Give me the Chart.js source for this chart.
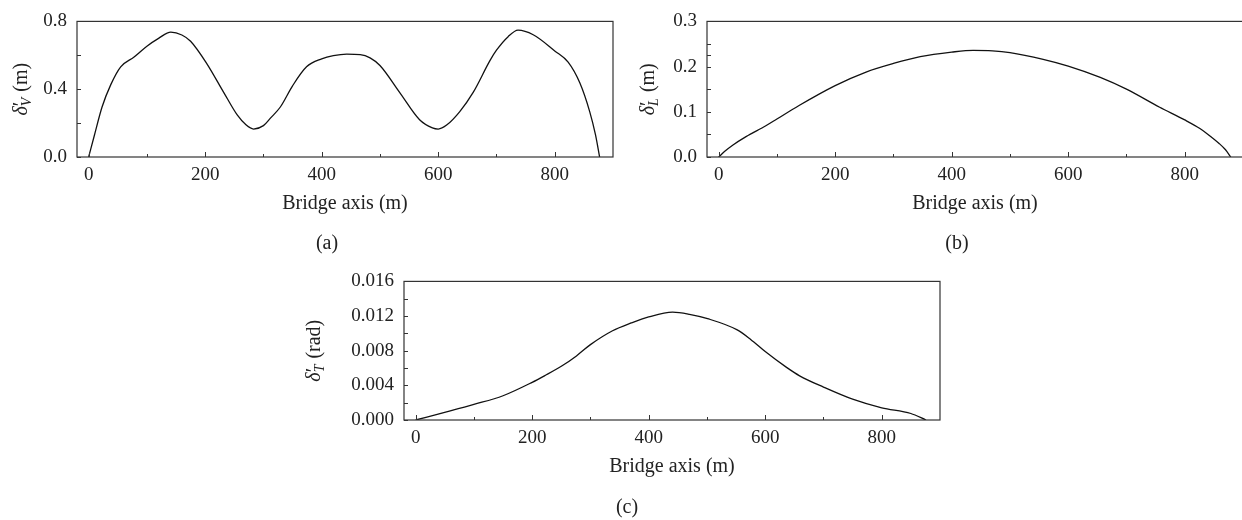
<!DOCTYPE html>
<html><head><meta charset="utf-8">
<script src="https://cdn.jsdelivr.net/npm/chart.js@4"></script>
<style>
html,body{margin:0;padding:0;background:#fff;overflow:hidden;width:1242px;height:520px;position:relative;}
canvas{position:absolute;}
.cap{position:absolute;font-family:"Liberation Serif",serif;font-size:20px;color:#222;transform:translate(-50%,-50%);white-space:nowrap;}
</style></head><body>
<canvas id="ca" width="640" height="260" style="left:0px;top:0px"></canvas>
<canvas id="cb" width="650" height="260" style="left:620px;top:0px"></canvas>
<canvas id="cc" width="660" height="260" style="left:300px;top:260px"></canvas>
<div class="cap" style="left:327px;top:242px">(a)</div>
<div class="cap" style="left:957px;top:242px">(b)</div>
<div class="cap" style="left:627px;top:506px">(c)</div>
<script>
// ---- data ----
const xTicks = [0, 200, 400, 600, 800];
const xMinor = [100, 300, 500, 700];

const aX = [0, 10, 23, 38, 55, 78, 100, 120, 141, 160, 175, 203, 232, 255, 270, 283, 300, 312, 329, 350, 374, 400, 420, 443, 466, 483, 500, 534, 568, 590, 600, 615, 637, 660, 689, 700, 720, 737, 763, 800, 823, 843, 860, 870, 877];
const aY = [0, 0.13, 0.295, 0.427, 0.532, 0.59, 0.654, 0.70, 0.737, 0.72, 0.683, 0.55, 0.38, 0.248, 0.19, 0.165, 0.185, 0.229, 0.295, 0.42, 0.532, 0.579, 0.598, 0.607, 0.604, 0.585, 0.54, 0.38, 0.22, 0.172, 0.165, 0.19, 0.268, 0.381, 0.57, 0.63, 0.71, 0.748, 0.721, 0.626, 0.56, 0.438, 0.268, 0.13, 0];
const aYTicks = [0, 0.4, 0.8];
const aYMinor = [0.2, 0.6];

const bX = [0, 10, 24, 47, 81, 100, 138, 200, 253, 300, 346, 400, 437, 470, 500, 557, 600, 655, 700, 757, 800, 826, 840, 859, 870, 879];
const bY = [0, 0.012, 0.026, 0.045, 0.069, 0.084, 0.114, 0.158, 0.188, 0.207, 0.222, 0.232, 0.236, 0.235, 0.231, 0.216, 0.201, 0.176, 0.150, 0.110, 0.082, 0.063, 0.050, 0.030, 0.016, 0];
const bYTicks = [0, 0.1, 0.2, 0.3];
const bYMinor = [0.05, 0.15, 0.225, 0.25];

const cX = [0, 53, 100, 150, 200, 221, 250, 276, 300, 338, 370, 400, 441, 470, 501, 552, 575, 600, 636, 659, 700, 750, 800, 850, 876];
const cY = [0, 0.00094, 0.0018, 0.0028, 0.00435, 0.0051, 0.0062, 0.0074, 0.0087, 0.0103, 0.0112, 0.0119, 0.01245, 0.0122, 0.0117, 0.0104, 0.0093, 0.0079, 0.0061, 0.0051, 0.0038, 0.0024, 0.0014, 0.00075, 0];
const cYTicks = [0, 0.004, 0.008, 0.012, 0.016];
const cYMinor = [0.002, 0.006, 0.010, 0.014];

// ---- style ----
const FONT = '"Liberation Serif", "Times New Roman", serif';
const INK = '#222';

const framePlugin = {
  id: 'frame',
  afterDatasetsDraw(chart, args, o) {
    const ctx = chart.ctx, a = chart.chartArea;
    const xs = chart.scales.x, ys = chart.scales.y;
    ctx.save();
    ctx.strokeStyle = '#333';
    ctx.lineWidth = 1.2;
    ctx.strokeRect(a.left, a.top, a.right - a.left, a.bottom - a.top);
    ctx.lineWidth = 1;
    ctx.beginPath();
    const tx = (vals, len) => vals.forEach(v => {
      const p = Math.round(xs.getPixelForValue(v)) + 0.5;
      ctx.moveTo(p, a.bottom); ctx.lineTo(p, a.bottom - len);
    });
    const ty = (vals, len) => vals.forEach(v => {
      const p = Math.round(ys.getPixelForValue(v)) + 0.5;
      ctx.moveTo(a.left, p); ctx.lineTo(a.left + len, p);
    });
    tx(o.xMajor, 5); tx(o.xMinor, 3);
    ty(o.yMajor, 4); ty(o.yMinor, 4);
    ctx.stroke();
    // rotated y-axis title with prime and subscript
    const cy = (a.top + a.bottom) / 2;
    ctx.translate(o.titleX, cy);
    ctx.rotate(-Math.PI / 2);
    ctx.fillStyle = INK;
    ctx.textBaseline = 'alphabetic';
    const fIt = 'italic 20px ' + FONT, fUp = '20px ' + FONT, fSub = 'italic 14px ' + FONT;
    ctx.font = fIt; const w1 = ctx.measureText('δ').width;
    ctx.font = fUp; const wp = ctx.measureText('′').width;
    ctx.font = fSub; const ws = ctx.measureText(o.sub).width;
    ctx.font = fUp; const wu = ctx.measureText(' ' + o.unit).width;
    const w2 = Math.max(wp, ws) + 1;
    let x = -(w1 + w2 + wu) / 2;
    const base = 5;
    ctx.font = fIt; ctx.fillText('δ', x, base); x += w1;
    ctx.font = fUp; ctx.fillText('′', x, base);
    ctx.font = fSub; ctx.fillText(o.sub, x, base + 4);
    x += w2;
    ctx.font = fUp; ctx.fillText(' ' + o.unit, x, base);
    ctx.restore();
  }
};

function makePanel(id, xs, ys, cfg) {
  const pts = xs.map((x, i) => ({ x: x, y: ys[i] }));
  return new Chart(document.getElementById(id), {
    type: 'line',
    data: { datasets: [{ data: pts, borderColor: '#111', borderWidth: 1.3, pointRadius: 0, fill: false, cubicInterpolationMode: 'monotone' }] },
    plugins: [framePlugin],
    options: {
      responsive: false, animation: false, devicePixelRatio: 1,
      layout: { padding: cfg.padding },
      plugins: { legend: { display: false }, tooltip: { enabled: false },
        frame: { xMajor: xTicks, xMinor: xMinor, yMajor: cfg.yTicks, yMinor: cfg.yMinor, titleX: cfg.titleX, sub: cfg.sub, unit: cfg.unit } },
      scales: {
        x: {
          type: 'linear', min: -20, max: 900,
          grid: { display: false, drawTicks: false }, border: { display: false },
          ticks: { font: { family: FONT, size: 19 }, color: INK, padding: 7, maxRotation: 0 },
          afterBuildTicks: s => { s.ticks = xTicks.map(v => ({ value: v })); },
          afterFit: s => { s.height = 60; },
          title: { display: true, text: 'Bridge axis (m)', color: INK, font: { family: FONT, size: 20 }, padding: { top: 0, bottom: 1 } }
        },
        y: {
          type: 'linear', min: cfg.yTicks[0], max: cfg.yTicks[cfg.yTicks.length - 1],
          grid: { display: false, drawTicks: false }, border: { display: false },
          ticks: { font: { family: FONT, size: 19 }, color: INK, padding: 10, callback: v => v.toFixed(cfg.dec) },
          afterBuildTicks: s => { s.ticks = cfg.yTicks.map(v => ({ value: v })); },
          afterFit: s => { s.width = cfg.yWidth; }
        }
      }
    }
  });
}

makePanel('ca', aX, aY, { yTicks: aYTicks, yMinor: aYMinor, dec: 1, yWidth: 77, padding: { left: 0, top: 16, right: 27, bottom: 43 }, titleX: 22, sub: 'V', unit: '(m)' });
makePanel('cb', bX, bY, { yTicks: bYTicks, yMinor: bYMinor, dec: 1, yWidth: 87, padding: { left: 0, top: 16, right: 27, bottom: 43 }, titleX: 29, sub: 'L', unit: '(m)' });
makePanel('cc', cX, cY, { yTicks: cYTicks, yMinor: cYMinor, dec: 3, yWidth: 104, padding: { left: 0, top: 19, right: 20, bottom: 40 }, titleX: 15, sub: 'T', unit: '(rad)' });
</script>
</body></html>
